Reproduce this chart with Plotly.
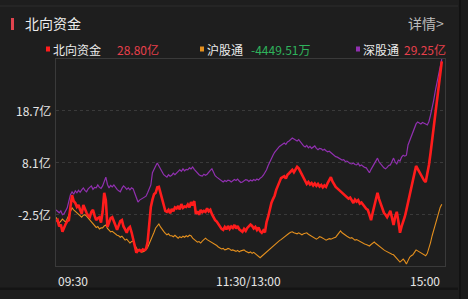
import plotly.graph_objects as go

# ---- data: one value per trading minute (0 = 09:30, 120 = 11:30/13:00, 240 = 15:00), in 亿 ----
minutes = list(range(241))

# 深股通
sz_v = [-1.6, -1.9, -2.2, -1.8, -2.6, -2.4, -1.7, -1.2, 0.2, 1.5,
        2.1, 1.6, 2.3, 1.9, 2.4, 2.0, 2.5, 2.9, 2.4, 2.1,
        2.7, 3.1, 3.3, 2.6, 3.0, 2.9, 3.5, 3.0, 2.8, 3.3,
        4.2, 5.1, 3.6, 2.9, 3.4, 3.1, 3.5, 2.9, 2.6, 2.3,
        2.1, 2.8, 3.3, 3.0, 2.6, 2.9, 2.5, 2.9, 2.7, 1.8,
        0.8, 0.0, 0.4, 0.6, 0.8, 1.0, 1.2, 1.9, 2.8, 3.5,
        6.0, 6.8, 7.4, 8.0, 7.3, 6.6, 6.2, 5.6, 5.3, 5.1,
        5.6, 5.3, 5.5, 5.9, 5.6, 6.0, 6.2, 6.6, 6.3, 6.8,
        6.4, 6.7, 6.6, 7.0, 6.8, 7.2, 6.7, 6.3, 6.0, 5.6,
        5.4, 5.3, 5.7, 5.5, 5.7, 6.2, 6.5, 6.8, 6.0, 5.4,
        5.1, 4.8, 4.5, 4.3, 4.1, 4.4, 4.2, 4.5, 4.4, 4.1,
        4.3, 4.6, 4.4, 4.7, 4.3, 4.0, 4.1, 4.4, 4.6, 4.5,
        4.2, 4.5, 4.3, 4.6, 4.4, 4.7, 4.5, 4.9, 5.1, 5.5,
        6.0, 6.6, 7.5, 8.3, 9.0, 9.6, 10.2, 10.7, 11.0, 11.4,
        11.7, 11.9, 12.1, 11.8, 12.3, 12.5, 12.8, 13.1, 12.9, 12.6,
        12.5, 12.8, 12.3, 11.9, 11.5, 11.3, 11.6, 11.1, 11.4, 11.0,
        11.3, 11.5, 11.0, 10.7, 11.0, 10.9, 10.6, 10.8, 10.5, 10.3,
        10.4, 10.1, 9.8, 9.6, 9.3, 9.2, 9.0, 8.8, 8.6, 8.7,
        8.3, 8.4, 8.1, 7.9, 7.8, 8.0, 7.7, 7.6, 7.9, 7.4,
        7.6, 7.3, 7.1, 7.0, 6.5, 6.0, 6.7, 7.3, 7.6, 8.4,
        9.0, 8.2, 7.7, 7.4, 7.0, 6.8, 7.1, 7.5, 7.6, 8.3,
        9.0, 8.2, 7.8, 8.6, 8.4, 9.2, 9.6, 9.4, 9.6, 11.7,
        12.6, 13.7, 14.6, 15.4, 16.0, 16.4, 16.1, 16.0, 16.3, 16.2,
        16.0, 15.8, 16.5, 17.8, 19.2, 20.9, 22.8, 24.6, 26.1, 27.5,
        29.25]

# 沪股通
sh_v = [-3.1, -3.6, -4.3, -3.9, -3.5, -3.8, -4.1, -3.4, -2.6, -1.8,
        -1.2, -1.6, -1.9, -2.0, -2.4, -2.8, -3.1, -2.7, -2.6, -2.9,
        -3.3, -3.7, -4.1, -4.5, -4.9, -5.2, -5.0, -5.5, -5.3, -5.3,
        -4.9, -4.7, -5.4, -5.8, -6.1, -6.0, -6.3, -6.5, -6.8, -6.9,
        -7.2, -7.0, -7.5, -7.8, -7.6, -8.1, -8.4, -8.1, -8.0, -8.8,
        -9.6, -10.0, -9.9, -10.2, -10.2, -10.0, -9.8, -9.3, -8.6, -7.9,
        -7.2, -6.2, -5.3, -4.8, -4.5, -5.1, -5.7, -6.0, -6.4, -6.7,
        -6.5, -6.9, -6.9, -7.1, -6.8, -7.2, -7.4, -7.1, -7.3, -7.0,
        -7.2, -6.9, -7.1, -6.8, -6.9, -7.4, -7.7, -8.0, -8.2, -8.1,
        -8.4, -8.0, -7.6, -7.4, -7.7, -7.9, -8.0, -8.3, -8.5, -8.6,
        -8.9, -9.2, -9.4, -9.6, -9.5, -9.8, -9.7, -9.5, -9.6, -9.9,
        -9.8, -10.0, -10.1, -9.9, -10.2, -10.0, -9.9, -9.8, -10.1, -10.3,
        -10.4, -10.2, -10.5, -10.3, -10.6, -10.9, -11.2, -11.4, -11.1, -10.8,
        -10.4, -10.1, -9.8, -9.5, -9.3, -9.0, -8.8, -8.5, -8.2, -7.9,
        -7.7, -7.4, -7.1, -6.8, -6.5, -6.4, -6.2, -6.1, -6.3, -6.4,
        -6.5, -6.3, -6.6, -6.7, -6.5, -6.4, -6.3, -6.6, -6.8, -6.9,
        -7.1, -7.3, -7.6, -7.4, -7.1, -7.2, -7.5, -7.6, -7.8, -7.6,
        -7.5, -7.6, -7.4, -7.3, -7.2, -6.8, -6.3, -5.9, -6.3, -6.6,
        -6.9, -7.0, -7.2, -7.4, -7.3, -7.6, -7.8, -7.7, -7.9, -8.0,
        -8.2, -8.4, -8.6, -8.7, -8.9, -9.0, -8.7, -8.4, -8.2, -8.5,
        -8.8, -9.0, -9.3, -9.6, -9.8, -10.0, -10.2, -10.4, -10.5, -10.7,
        -10.8, -11.2, -11.7, -12.0, -12.3, -12.0, -11.7, -12.1, -12.7, -12.0,
        -11.3, -11.0, -10.8, -10.3, -9.8, -10.0, -10.2, -10.4, -10.6, -10.8,
        -11.0, -10.5, -9.6, -8.3, -6.9, -5.7, -4.5, -3.2, -2.0, -1.1,
        -0.4451]

# 北向资金
nb_v = [-4.0, -3.7, -5.0, -4.6, -6.1, -5.2, -4.5, -3.9, -3.7, -1.0,
        1.4, 0.2, -0.2, -1.0, -0.6, -1.6, -2.4, -0.6, -1.5, -2.2,
        -2.8, -3.1, -2.0, -1.6, -2.8, -3.7, -3.3, -3.1, -4.2, -2.0,
        1.9, 0.4, -5.1, -4.0, -3.3, -3.1, -4.2, -4.8, -5.7, -4.6,
        -3.9, -3.7, -5.0, -5.6, -6.3, -5.4, -5.1, -6.2, -7.5, -9.2,
        -10.4, -9.9, -9.8, -10.1, -9.7, -9.9, -9.6, -8.2, -3.7, -1.0,
        0.5, 1.6, 1.9, 3.0, 3.1, 1.8, 0.4, -0.8, -1.8, -2.0,
        -1.6, -2.3, -1.4, -1.9, -1.1, -1.3, -0.8, -1.5, -0.4, -1.2,
        -0.9, -1.0, -0.5, -1.1, 0.0, -0.7, 0.2, -2.4, -1.9, -2.6,
        -1.6, -2.1, -1.8, -2.0, -1.3, -1.9, -1.6, -2.5, -3.3, -3.7,
        -4.0, -4.5, -5.0, -5.5, -5.7, -5.1, -5.6, -4.9, -5.5, -5.0,
        -5.3, -4.7, -5.4, -4.9, -5.6, -5.9, -6.1, -5.5, -5.9, -5.3,
        -5.0, -4.6, -4.9, -5.4, -5.1, -5.7, -5.2, -6.0, -6.3, -5.8,
        -6.2, -4.1, -3.0, -1.5, -0.2, 0.6, 1.3, 2.5, 3.2, 4.0,
        4.9, 5.1, 5.3, 4.8, 5.6, 5.9, 6.3, 6.6, 6.1, 6.8,
        7.2, 6.9, 6.2, 5.6, 4.9, 4.2, 3.7, 4.1, 3.6, 3.9,
        3.4, 3.8, 3.3, 3.7, 3.2, 3.5, 3.0, 3.4, 3.1, 3.9,
        4.6, 5.1, 4.2, 3.5, 3.1, 2.8, 2.5, 2.2, 1.9, 1.7,
        1.3, 1.0, 0.7, 0.9, 0.3, -0.2, 0.5, 0.1, 0.4, -0.3,
        -0.1, -0.6, -0.9, -1.4, -1.6, -2.8, -3.7, -2.2, -0.6, 0.8,
        1.9, 0.6, -0.4, -1.0, -2.2, -2.6, -3.1, -2.5, -1.8, -3.2,
        -4.7, -3.0, -2.0, -4.0, -6.3, -5.0, -4.1, -3.0, -1.6, 0.0,
        1.4, 3.2, 4.9, 6.2, 7.4, 6.8, 6.2, 5.4, 4.9, 4.4,
        4.1, 5.6, 7.6, 10.0, 12.7, 15.8, 18.9, 21.5, 24.0, 26.5,
        28.80]

y_ticks = [18.7, 8.1, -2.5]
y_tick_text = ["18.7亿", "8.1亿", "-2.5亿"]
x_tick_pos = [0, 120, 240]
x_tick_text = ["09:30", "11:30/13:00", "15:00"]
legend_names = ["北向资金", "沪股通", "深股通"]
legend_values = ["28.80亿", "-4449.51万", "29.25亿"]

# ---- layout geometry (pixels) ----
W, H = 468, 299
L, R, T, B = 56, 445, 59, 266
def px(x):
    return (x - L) / (R - L)
def py(y):
    return (B - y) / (B - T)

BG = "#1e1e1e"
FONT = "Noto Sans CJK SC"
C_RED, C_ORG, C_PUR = "#ff1c1c", "#e38f1e", "#9130b0"

fig = go.Figure()
fig.add_trace(go.Scatter(x=minutes, y=sh_v, mode="lines", line=dict(color=C_ORG, width=1.1), hoverinfo="skip"))
fig.add_trace(go.Scatter(x=minutes, y=sz_v, mode="lines", line=dict(color=C_PUR, width=1.2), hoverinfo="skip"))
fig.add_trace(go.Scatter(x=minutes, y=nb_v, mode="lines", line=dict(color=C_RED, width=2.6), hoverinfo="skip"))

fig.update_layout(
    width=W, height=H, showlegend=False,
    margin=dict(l=L, r=W - R, t=T, b=H - B, pad=0),
    paper_bgcolor=BG, plot_bgcolor=BG,
    xaxis=dict(range=[0, 242], showgrid=False, zeroline=False, showticklabels=False,
               showline=True, mirror=True, linecolor="#3a3a3a", linewidth=1, fixedrange=True),
    yaxis=dict(range=[-13.1, 29.3], tickvals=y_ticks, showticklabels=False, showgrid=True,
               gridcolor="#3a3a3a", griddash="dot", gridwidth=1, zeroline=False,
               showline=True, mirror=True, linecolor="#3a3a3a", linewidth=1, fixedrange=True),
)

ann = []
# y tick labels
for v, t in zip(y_ticks, y_tick_text):
    ann.append(dict(xref="paper", yref="y", x=px(53), y=v, text=t, showarrow=False, xanchor="right",
                    yanchor="middle", font=dict(family=FONT, size=12, color="#e6e6e6")))
# x tick labels
for xv, t, anc in zip(x_tick_pos, x_tick_text, ["left", "center", "right"]):
    ann.append(dict(xref="x", yref="paper", x=xv, y=py(280), text=t, showarrow=False, xanchor=anc,
                    yanchor="middle", font=dict(family=FONT, size=12, color="#e6e6e6")))
# legend row
leg_x = [46, 200, 356]
val_x = [115, 249, 402]
leg_col = [C_RED, C_ORG, C_PUR]
val_col = ["#e8404c", "#2fb35c", "#e8404c"]
shapes = []
for lx, vx, name, val, lc, vc in zip(leg_x, val_x, legend_names, legend_values, leg_col, val_col):
    shapes.append(dict(type="rect", xref="paper", yref="paper", x0=px(lx), x1=px(lx + 4),
                       y0=py(51.5), y1=py(46.5), fillcolor=lc, line=dict(width=0)))
    ann.append(dict(xref="paper", yref="paper", x=px(lx + 5), y=py(49), text=name, showarrow=False,
                    xanchor="left", yanchor="middle", font=dict(family=FONT, size=12, color="#ececec")))
    ann.append(dict(xref="paper", yref="paper", x=px(vx), y=py(49), text=val, showarrow=False,
                    xanchor="left", yanchor="middle", font=dict(family=FONT, size=12, color=vc)))
# header
ann.append(dict(xref="paper", yref="paper", x=px(23), y=py(23.5), text="北向资金", showarrow=False,
                xanchor="left", yanchor="middle", font=dict(family=FONT, size=14, color="#ececec")))
ann.append(dict(xref="paper", yref="paper", x=px(446), y=py(23.5), text="详情>", showarrow=False,
                xanchor="right", yanchor="middle", font=dict(family=FONT, size=14, color="#bdbdbd")))
shapes.append(dict(type="rect", xref="paper", yref="paper", x0=px(11), x1=px(14), y0=py(30), y1=py(18),
                   fillcolor="#e0444e", line=dict(width=0)))
# frame lines of the widget
shapes.append(dict(type="line", xref="paper", yref="paper", x0=px(0), x1=px(458), y0=py(6), y1=py(6),
                   line=dict(color="#2c2c2c", width=1)))
shapes.append(dict(type="rect", xref="paper", yref="paper", x0=px(0), x1=px(458), y0=py(290), y1=py(287.5),
                   fillcolor="#141414", line=dict(width=0)))
shapes.append(dict(type="rect", xref="paper", yref="paper", x0=px(459), x1=px(461), y0=py(299), y1=py(0),
                   fillcolor="#121212", line=dict(width=0)))
shapes.append(dict(type="rect", xref="paper", yref="paper", x0=px(461), x1=px(468), y0=py(299), y1=py(0),
                   fillcolor="#1a1a1a", line=dict(width=0)))

fig.update_layout(annotations=ann, shapes=shapes)
fig.write_html("out.html", config={"displayModeBar": False, "staticPlot": True})
